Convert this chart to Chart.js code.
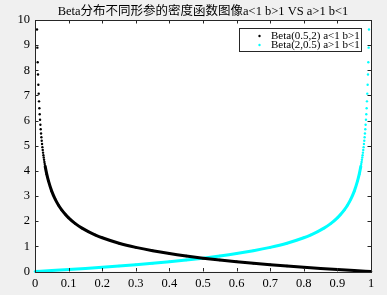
<!DOCTYPE html>
<html><head><meta charset="utf-8">
<script src="https://cdn.jsdelivr.net/npm/chart.js@4.4.1/dist/chart.umd.min.js"></script>
<style>html,body{margin:0;padding:0;background:#f0f0f0}#wrap{width:387px;height:295px}</style>
</head><body><div id="wrap"><canvas id="c" width="387" height="295"></canvas></div>
<script>
const titleText = 'Beta分布不同形参的密度函数图像a<1 b>1 VS a>1 b<1';
const seriesLabels = ['Beta(0.5,2) a<1 b>1', 'Beta(2,0.5) a>1 b<1'];
const xTickLabels = ['0','0.1','0.2','0.3','0.4','0.5','0.6','0.7','0.8','0.9','1'];
const yTickLabels = ['0','1','2','3','4','5','6','7','8','9','10'];

const xBlack = [0.006,0.007,0.008,0.009,0.010,0.011,0.012,0.013,0.014,0.015,0.016,0.017,0.018,0.019,0.020,0.021,0.022,0.023,0.024,0.025,0.026,0.027,0.028,0.029,0.030,
  0.035,0.04,0.05,0.06,0.07,0.08,0.09,0.10,0.12,0.14,0.16,0.18,0.20,0.25,0.30,0.35,0.40,0.45,0.50,0.55,0.60,0.65,0.70,0.75,0.80,0.85,0.90,0.95,1.0];
const yBlack = [9.624,8.901,8.318,7.835,7.425,7.072,6.765,6.492,6.250,6.032,5.834,5.655,5.490,5.338,5.197,5.067,4.945,4.832,4.725,4.625,4.530,4.441,4.357,4.276,4.200,
  3.869,3.600,3.186,2.878,2.636,2.440,2.275,2.135,1.905,1.724,1.575,1.450,1.342,1.125,0.9585,0.824,0.7115,0.615,0.530,0.455,0.387,0.3256,0.269,0.2165,0.1677,0.122,0.0791,0.0385,0];

const xCyan = [0,0.05,0.10,0.15,0.20,0.25,0.30,0.35,0.40,0.45,0.50,0.55,0.60,0.65,0.70,0.75,0.80,0.82,0.84,0.86,0.88,0.90,0.91,0.92,0.93,0.94,0.95,0.96,0.965,0.970,
  0.971,0.972,0.973,0.974,0.975,0.976,0.977,0.978,0.979,0.980,0.981,0.982,0.983,0.984,0.985,0.986,0.987,0.988,0.989,0.990,0.991,0.992,0.993,0.994];
const yCyan = [0,0.0385,0.0791,0.122,0.1677,0.2165,0.269,0.3256,0.387,0.455,0.530,0.615,0.7115,0.824,0.9585,1.125,1.342,1.450,1.575,1.724,1.905,2.135,2.275,2.440,2.636,2.878,3.186,3.600,3.869,4.200,
  4.276,4.357,4.441,4.530,4.625,4.725,4.832,4.945,5.067,5.197,5.338,5.490,5.655,5.834,6.032,6.250,6.492,6.765,7.072,7.425,7.835,8.318,8.901,9.624];

const SERIF = '"Liberation Serif","Times New Roman","Noto Sans CJK SC",serif';
const toPts = (xs, ys) => xs.map((x, i) => ({x, y: ys[i]}));

const decor = {
  id: 'decor',
  beforeDraw(chart) {
    const {ctx, chartArea: a} = chart;
    ctx.save();
    ctx.fillStyle = '#f0f0f0';
    ctx.fillRect(0, 0, chart.width, chart.height);
    ctx.fillStyle = '#ffffff';
    ctx.fillRect(a.left, a.top, a.right - a.left, a.bottom - a.top);
    ctx.fillStyle = '#000';
    ctx.font = '12.5px ' + SERIF;
    ctx.textAlign = 'center';
    ctx.textBaseline = 'alphabetic';
    ctx.fillText(titleText, (a.left + a.right) / 2, 15);
    ctx.restore();
  },
  afterDatasetsDraw(chart) {
    const {ctx, chartArea: a, scales} = chart;
    ctx.save();
    ctx.strokeStyle = '#262626';
    ctx.lineWidth = 1;
    const L = 3.5;
    ctx.beginPath();
    scales.x.ticks.forEach(t => {
      const px = Math.round(scales.x.getPixelForValue(t.value)) + 0.5;
      ctx.moveTo(px, a.bottom); ctx.lineTo(px, a.bottom - L);
      ctx.moveTo(px, a.top); ctx.lineTo(px, a.top + L);
    });
    scales.y.ticks.forEach(t => {
      const py = Math.round(scales.y.getPixelForValue(t.value)) + 0.5;
      ctx.moveTo(a.left, py); ctx.lineTo(a.left + L, py);
      ctx.moveTo(a.right, py); ctx.lineTo(a.right - L, py);
    });
    ctx.stroke();
    ctx.strokeRect(Math.round(a.left) + 0.5, Math.round(a.top) + 0.5, Math.round(a.right - a.left), Math.round(a.bottom - a.top));

    // legend
    const lx = 239.5, ly = 28.5, lw = 122, lh = 23;
    ctx.fillStyle = '#fff';
    ctx.fillRect(lx, ly, lw, lh);
    ctx.strokeStyle = '#262626';
    ctx.strokeRect(lx, ly, lw, lh);
    ctx.font = '11px ' + SERIF;
    ctx.textAlign = 'left';
    ctx.textBaseline = 'middle';
    const colors = ['#000000', '#00ffff'];
    const rows = [36, 45];
    rows.forEach((ry, i) => {
      ctx.fillStyle = colors[i];
      ctx.beginPath(); ctx.arc(259.5, ry, 1.2, 0, Math.PI * 2); ctx.fill();
      ctx.fillStyle = '#000';
      ctx.fillText(seriesLabels[i], 271, ry + 0.5);
    });
    ctx.restore();
  }
};

new Chart(document.getElementById('c'), {
  type: 'scatter',
  data: {
    datasets: [
      { label: seriesLabels[0], data: toPts(xBlack, yBlack), showLine: true, borderColor: '#000000', backgroundColor: '#000000',
        borderWidth: 3, pointRadius: 1.2, pointBorderWidth: 0, cubicInterpolationMode: 'monotone', clip: false,
        segment: { borderColor: c => (c.p0.parsed.x < 0.0295 ? 'rgba(0,0,0,0)' : undefined) } },
      { label: seriesLabels[1], data: toPts(xCyan, yCyan), showLine: true, borderColor: '#00ffff', backgroundColor: '#00ffff',
        borderWidth: 3, pointRadius: 1.2, pointBorderWidth: 0, cubicInterpolationMode: 'monotone', clip: false,
        segment: { borderColor: c => (c.p1.parsed.x > 0.9705 ? 'rgba(0,0,0,0)' : undefined) } }
    ]
  },
  options: {
    responsive: false, animation: false, devicePixelRatio: 1,
    layout: { padding: { top: 20, right: 16, left: 0, bottom: 0 } },
    plugins: { legend: { display: false }, title: { display: false }, tooltip: { enabled: false } },
    scales: {
      x: { type: 'linear', min: 0, max: 1,
        grid: { display: false, drawTicks: false }, border: { display: false },
        ticks: { stepSize: 0.1, padding: 5, color: '#000', maxRotation: 0, autoSkip: false,
          font: { family: SERIF, size: 12.5 }, callback: (v, i) => xTickLabels[i] },
        afterFit: s => { s.height = 23.5; } },
      y: { type: 'linear', min: 0, max: 10,
        grid: { display: false, drawTicks: false }, border: { display: false },
        ticks: { stepSize: 1, padding: 5, color: '#000', autoSkip: false,
          font: { family: SERIF, size: 12.5 }, callback: (v, i) => yTickLabels[i] },
        afterFit: s => { s.width = 35; } }
    }
  },
  plugins: [decor]
});
</script></body></html>
